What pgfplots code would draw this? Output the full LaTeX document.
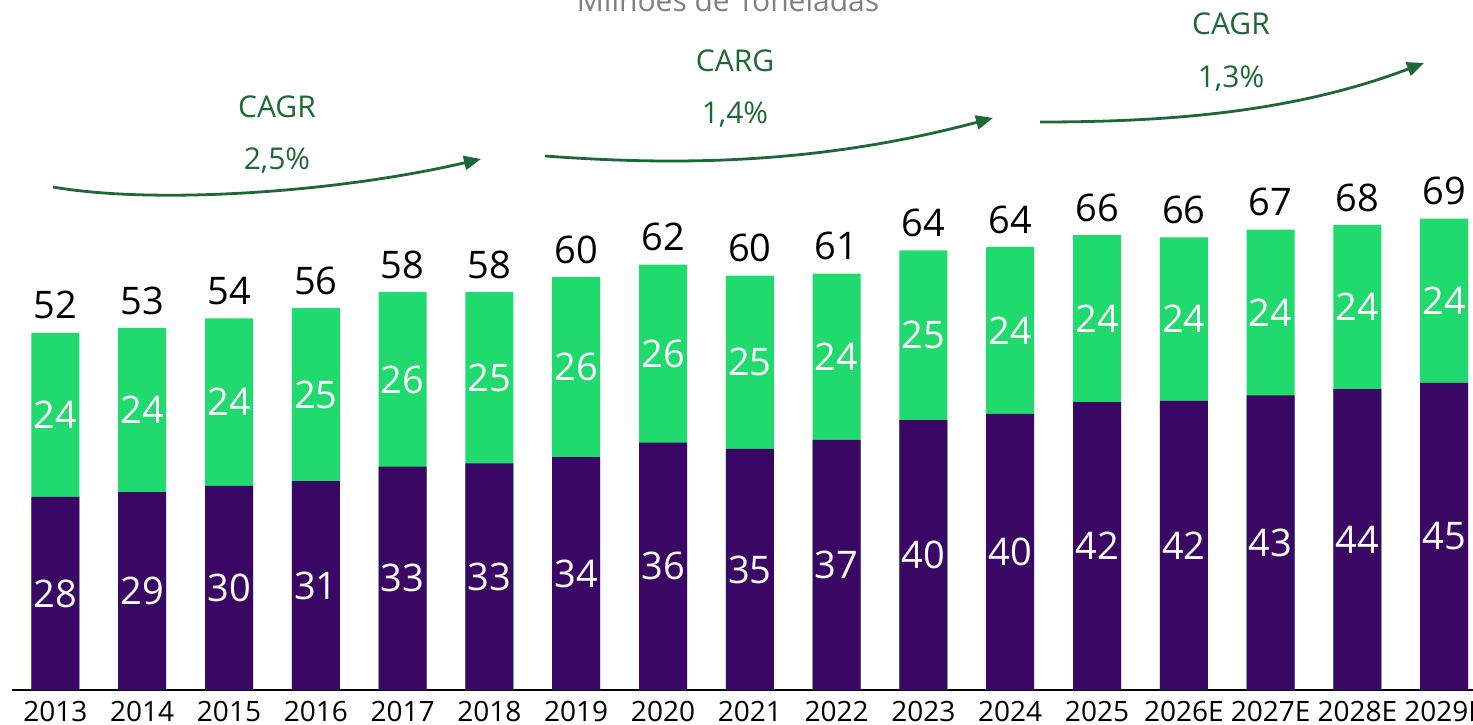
\documentclass[border=0pt]{standalone}
\usepackage{pgfplots}
\pgfplotsset{compat=1.18}
\usepackage{pgfplotstable}
\usepackage{fontspec}
\setmainfont{Open Sans}
\usetikzlibrary{arrows.meta}
\definecolor{cpurple}{RGB}{58,8,100}
\definecolor{cgreen}{RGB}{33,218,110}
\definecolor{cdark}{RGB}{29,104,55}
\definecolor{cgray}{RGB}{128,128,128}
% p = purple segment, t = total height; pl, gl, tl = printed labels
\pgfplotstableread{
x p t pl gl tl
0 28.1 52.0 28 24 52
1 28.8 52.7 29 24 53
2 29.7 54.1 30 24 54
3 30.4 55.6 31 25 56
4 32.5 57.9 33 26 58
5 33.0 57.9 33 25 58
6 33.9 60.1 34 26 60
7 36.0 61.9 36 26 62
8 35.1 60.3 35 25 60
9 36.4 60.6 37 24 61
10 39.3 64.0 40 25 64
11 40.2 64.5 40 24 64
12 41.9 66.2 42 24 66
13 42.1 65.9 42 24 66
14 42.9 67.0 43 24 67
15 43.8 67.7 44 24 68
16 44.7 68.6 45 24 69
}\datatable
\begin{document}
\begin{tikzpicture}[x=0.5pt,y=0.5pt]
\clip (0,0) rectangle (1473,724);
\begin{axis}[
  at={(6pt,17pt)}, anchor=south west,
  scale only axis, width=737.8pt, height=343.5pt,
  xmin=-0.5, xmax=16.5, ymin=0, ymax=100,
  axis x line*=bottom, axis y line=none,
  x axis line style={line width=1pt, black},
  xtick={0,...,16},
  xticklabels={2013,2014,2015,2016,2017,2018,2019,2020,2021,2022,2023,2024,2025,2026E,2027E,2028E,2029E},
  major tick length=0pt,
  xticklabel style={anchor=north, inner sep=0pt, yshift=-5.5pt, font=\fontsize{14}{16}\selectfont},
  /pgf/number format/assume math mode=true,
  clip=false,
]
\addplot[ybar, bar width=0.553, bar shift=0pt, fill=cgreen, draw=none,
  nodes near coords, point meta=explicit,
  every node near coord/.append style={anchor=south, inner sep=0pt, text=black,
     font=\fontsize{19}{20}\selectfont, yshift=6.5pt}]
  table[x=x, y=t, meta=tl] {\datatable};
\addplot[ybar, bar width=0.553, bar shift=0pt, fill=cpurple, draw=none]
  table[x=x, y=p] {\datatable};
\addplot[draw=none, mark=none, nodes near coords, point meta=explicit,
  every node near coord/.append style={anchor=center, inner sep=0pt, text=white,
     font=\fontsize{19}{20}\selectfont}]
  table[x=x, y expr=\thisrow{p}/2, meta=pl] {\datatable};
\addplot[draw=none, mark=none, nodes near coords, point meta=explicit,
  every node near coord/.append style={anchor=center, inner sep=0pt, text=white,
     font=\fontsize{19}{20}\selectfont}]
  table[x=x, y expr=(\thisrow{p}+\thisrow{t})/2, meta=gl] {\datatable};
\end{axis}
\node[anchor=base, text=cgray, font=\fontsize{15}{18}\selectfont] at (728,712) {Milhões de Toneladas};
\begin{scope}[every node/.style={anchor=base, text=cdark, font=\fontsize{15}{18}\selectfont}]
\node at (277,606) {CAGR};
\node at (277,554) {2,5\%};
\node at (735,652) {CARG};
\node at (735,600) {1,4\%};
\node at (1231,689) {CAGR};
\node at (1231,636) {1,3\%};
\end{scope}
\begin{scope}[cdark, line width=1.4pt]
\draw[-{Triangle[length=8.5pt,width=7pt]}] (53,537) .. controls (150,520) and (330,530) .. (481,565);
\draw[-{Triangle[length=8.5pt,width=7pt]}] (545,568) .. controls (680,558) and (820,560) .. (993,606);
\draw[-{Triangle[length=8.5pt,width=7pt]}] (1040,602) .. controls (1160,602) and (1290,610) .. (1424,661);
\end{scope}
\end{tikzpicture}
\end{document}
